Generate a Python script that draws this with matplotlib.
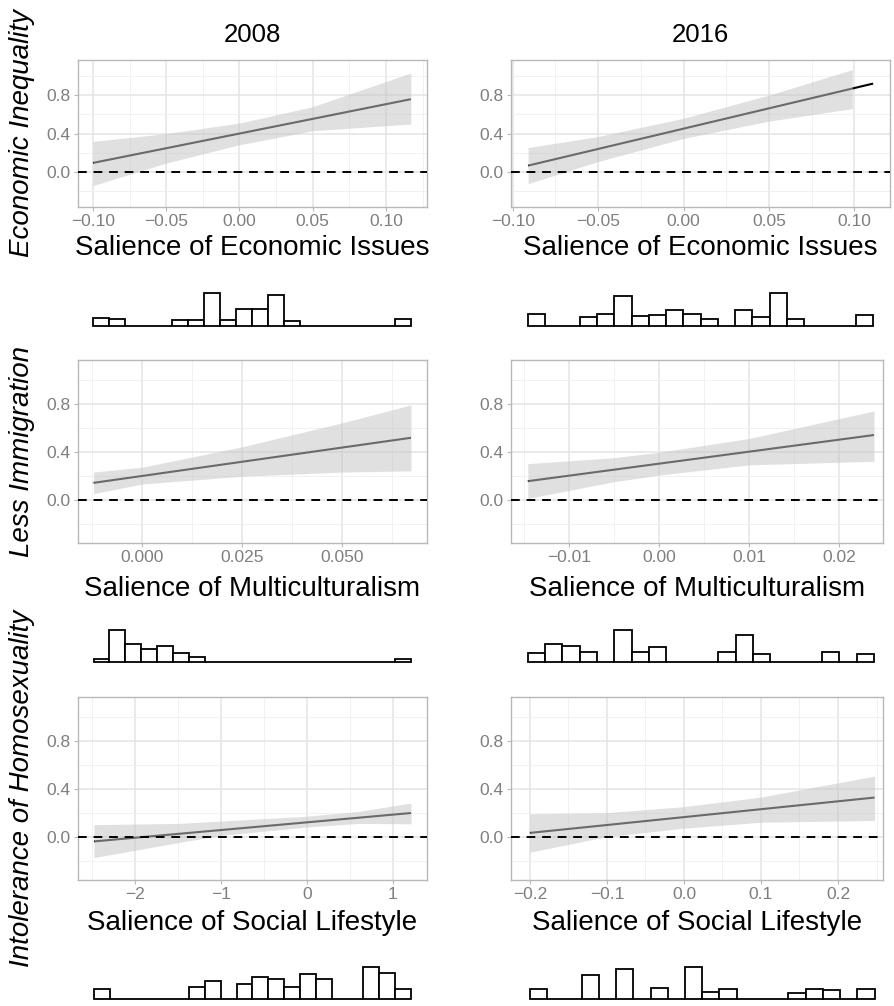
import numpy as np
import matplotlib
matplotlib.use("Agg")
import matplotlib.pyplot as plt

plt.rcParams["font.family"] = ["Liberation Sans", "DejaVu Sans"]

W, H = 894, 1006
years = ["2008", "2016"]
outcomes = ["Economic Inequality", "Less Immigration", "Intolerance of Homosexuality"]
moderators = ["Salience of Economic Issues", "Salience of Multiculturalism",
              "Salience of Social Lifestyle"]

# ---- marginal-effect lines (x range and effect at both ends) ----
econ08_x = [-0.100, 0.117]
econ08_y = [0.096, 0.758]
econ16_x = [-0.091, 0.111]
econ16_y = [0.068, 0.920]
multi08_x = [-0.0121, 0.0673]
multi08_y = [0.140, 0.516]
multi16_x = [-0.01463, 0.0239]
multi16_y = [0.154, 0.539]
social08_x = [-2.478, 1.213]
social08_y = [-0.040, 0.197]
social16_x = [-0.200, 0.2475]
social16_y = [0.031, 0.326]

# ---- confidence bands ----
econ08_bx = [-0.100, -0.050, 0.000, 0.050, 0.117]
econ08_lo = [-0.140, 0.095, 0.285, 0.430, 0.500]
econ08_hi = [0.320, 0.400, 0.510, 0.680, 1.030]
econ16_bx = [-0.091, -0.050, 0.000, 0.050, 0.0988]
econ16_lo = [-0.120, 0.110, 0.350, 0.530, 0.660]
econ16_hi = [0.255, 0.370, 0.560, 0.800, 1.065]
multi08_bx = [-0.0121, 0.000, 0.025, 0.050, 0.0673]
multi08_lo = [0.050, 0.130, 0.195, 0.230, 0.240]
multi08_hi = [0.230, 0.270, 0.440, 0.640, 0.790]
multi16_bx = [-0.01463, -0.005, 0.000, 0.010, 0.0239]
multi16_lo = [0.010, 0.150, 0.205, 0.290, 0.320]
multi16_hi = [0.300, 0.350, 0.395, 0.510, 0.740]
social08_bx = [-2.478, -1.5, -1.0, 0.0, 0.6, 1.213]
social08_lo = [-0.175, -0.050, 0.010, 0.080, 0.110, 0.107]
social08_hi = [0.100, 0.110, 0.130, 0.170, 0.210, 0.280]
social16_bx = [-0.200, -0.100, 0.000, 0.100, 0.2475]
social16_lo = [-0.130, 0.000, 0.070, 0.120, 0.135]
social16_hi = [0.190, 0.200, 0.250, 0.330, 0.505]

# ---- distribution of the moderator (20 bins across the observed range) ----
econ08_hist = [8.0, 7.0, 0, 0, 0, 5.7, 6.3, 32.3, 6.3, 17.0,
               17.0, 30.0, 5.3, 0, 0, 0, 0, 0, 0, 7.0]
econ16_hist = [11.7, 0, 0, 9.0, 11.7, 29.7, 10.0, 11.0, 16.0, 11.3,
               7.3, 0, 15.3, 8.3, 32.3, 7.0, 0, 0, 0, 11.0]
multi08_hist = [3.3, 31.3, 18.3, 13.3, 15.7, 9.3, 4.7, 0, 0, 0,
                0, 0, 0, 0, 0, 0, 0, 0, 0, 3.3]
multi16_hist = [8.7, 18.0, 16.3, 10.0, 0, 31.7, 10.0, 14.7, 0, 0,
                0, 10.3, 26.3, 8.0, 0, 0, 0, 10.0, 0, 8.3]
social08_hist = [9.7, 0, 0, 0, 0, 0, 11.3, 17.7, 0, 15.0,
                 21.0, 19.7, 11.7, 24.3, 19.3, 0, 0, 31.7, 25.3, 9.7]
social16_hist = [9.7, 0, 0, 23.7, 0, 29.0, 0, 11.0, 0, 31.7,
                 7.0, 9.7, 0, 0, 0, 5.7, 10.0, 8.3, 0, 9.3]

# ---- axis ticks ----
y_ticks = [0.0, 0.4, 0.8]
y_labels = ["0.0", "0.4", "0.8"]
econ08_ticks = [-0.10, -0.05, 0.0, 0.05, 0.10]
econ08_labels = ["\u22120.10", "\u22120.05", "0.00", "0.05", "0.10"]
econ16_ticks = [-0.10, -0.05, 0.0, 0.05, 0.10]
econ16_labels = ["\u22120.10", "\u22120.05", "0.00", "0.05", "0.10"]
multi08_ticks = [0.0, 0.025, 0.05]
multi08_labels = ["0.000", "0.025", "0.050"]
multi16_ticks = [-0.01, 0.0, 0.01, 0.02]
multi16_labels = ["\u22120.01", "0.00", "0.01", "0.02"]
social08_ticks = [-2, -1, 0, 1]
social08_labels = ["\u22122", "\u22121", "0", "1"]
social16_ticks = [-0.2, -0.1, 0.0, 0.1, 0.2]
social16_labels = ["\u22120.2", "\u22120.1", "0.0", "0.1", "0.2"]

panels = [
    dict(lx=econ08_x, ly=econ08_y, bx=econ08_bx, lo=econ08_lo, hi=econ08_hi,
         hist=econ08_hist, ticks=econ08_ticks, labels=econ08_labels,
         xlim=(-0.1102, 0.128), box=(78, 60, 427, 207), base=325.7),
    dict(lx=econ16_x, ly=econ16_y, bx=econ16_bx, lo=econ16_lo, hi=econ16_hi,
         hist=econ16_hist, ticks=econ16_ticks, labels=econ16_labels,
         xlim=(-0.1010, 0.1209), box=(511, 60, 890, 207), base=325.7),
    dict(lx=multi08_x, ly=multi08_y, bx=multi08_bx, lo=multi08_lo, hi=multi08_hi,
         hist=multi08_hist, ticks=multi08_ticks, labels=multi08_labels,
         xlim=(-0.0160, 0.0713), box=(78, 360, 427, 543), base=662.0),
    dict(lx=multi16_x, ly=multi16_y, bx=multi16_bx, lo=multi16_lo, hi=multi16_hi,
         hist=multi16_hist, ticks=multi16_ticks, labels=multi16_labels,
         xlim=(-0.0165, 0.0249), box=(511, 360, 883, 543), base=662.0),
    dict(lx=social08_x, ly=social08_y, bx=social08_bx, lo=social08_lo, hi=social08_hi,
         hist=social08_hist, ticks=social08_ticks, labels=social08_labels,
         xlim=(-2.664, 1.399), box=(78, 697, 427, 880), base=998.7),
    dict(lx=social16_x, ly=social16_y, bx=social16_bx, lo=social16_lo, hi=social16_hi,
         hist=social16_hist, ticks=social16_ticks, labels=social16_labels,
         xlim=(-0.2245, 0.2584), box=(511, 697, 883, 880), base=998.7),
]

fig = plt.figure(figsize=(W / 100, H / 100), dpi=100)


def px_axes(x0, y0, x1, y1):
    return fig.add_axes([x0 / W, 1 - y1 / H, (x1 - x0) / W, (y1 - y0) / H])


TICK_GREY = "#7f7f7f"
BORDER = "#b8b8b8"

for i, p in enumerate(panels):
    x0, y0, x1, y1 = p["box"]
    ax = px_axes(x0, y0, x1, y1)

    # grid
    ticks = p["ticks"]
    step = ticks[1] - ticks[0]
    minor_x = np.arange(ticks[0] - step * 2.5, ticks[-1] + step * 2.6, step)
    ax.set_xticks(minor_x, minor=True)
    ax.set_yticks([-0.2, 0.2, 0.6, 1.0], minor=True)
    ax.set_xticks(ticks, p["labels"])
    ax.set_yticks(y_ticks, y_labels)
    ax.grid(True, which="major", color="#e4e4e4", lw=1.1, zorder=0)
    ax.grid(True, which="minor", color="#efefef", lw=0.6, zorder=0)
    ax.set_axisbelow(True)
    ax.tick_params(which="minor", length=0)
    ax.tick_params(which="major", length=3.2, width=0.8, color=BORDER,
                   labelsize=12.5, labelcolor=TICK_GREY, pad=2)
    for s in ax.spines.values():
        s.set_color(BORDER)
        s.set_linewidth(1.0)

    # effect line, band over it, zero reference
    ax.plot(p["lx"], p["ly"], color="black", lw=1.5, zorder=2, solid_capstyle="butt")
    ax.fill_between(p["bx"], p["lo"], p["hi"], color="#c6c6c6", alpha=0.54,
                    lw=0, zorder=3)
    ax.axhline(0, color="black", lw=1.4, ls=(0, (4.5, 3.5)), zorder=4)

    ax.set_xlim(*p["xlim"])
    ax.set_ylim(-0.362, 1.165)

    # moderator histogram beneath the panel
    hx = px_axes(x0, p["base"] - 34, x1, p["base"] + 1.5)
    lo_x, hi_x = p["lx"][0], p["lx"][1]
    edges = np.linspace(lo_x, hi_x, len(p["hist"]) + 1)
    centers = (edges[:-1] + edges[1:]) / 2
    hx.bar(centers, p["hist"], width=edges[1] - edges[0], color="white",
           edgecolor="black", lw=1.3, align="center")
    hx.set_xlim(*p["xlim"])
    hx.set_ylim(-1.2, 33.5)
    hx.axis("off")

# column titles
for col, yr in enumerate(years):
    x0, _, x1, _ = panels[col]["box"]
    fig.text((x0 + x1) / 2 / W, 1 - 35 / H, yr, ha="center", va="center",
             fontsize=18.5)

# x-axis titles
xl_base = [255, 596.5, 930]
for r in range(3):
    for c in range(2):
        x0, _, x1, _ = panels[2 * r + c]["box"]
        fig.text((x0 + x1) / 2 / W, 1 - xl_base[r] / H, moderators[r],
                 ha="center", va="baseline", fontsize=20)

# row titles
for r in range(3):
    _, y0, _, y1 = panels[2 * r]["box"]
    fig.text(22 / W, 1 - (y0 + y1) / 2 / H, outcomes[r], rotation=90,
             ha="center", va="center", fontsize=20, style="italic")

fig.savefig("out.png", dpi=100)
